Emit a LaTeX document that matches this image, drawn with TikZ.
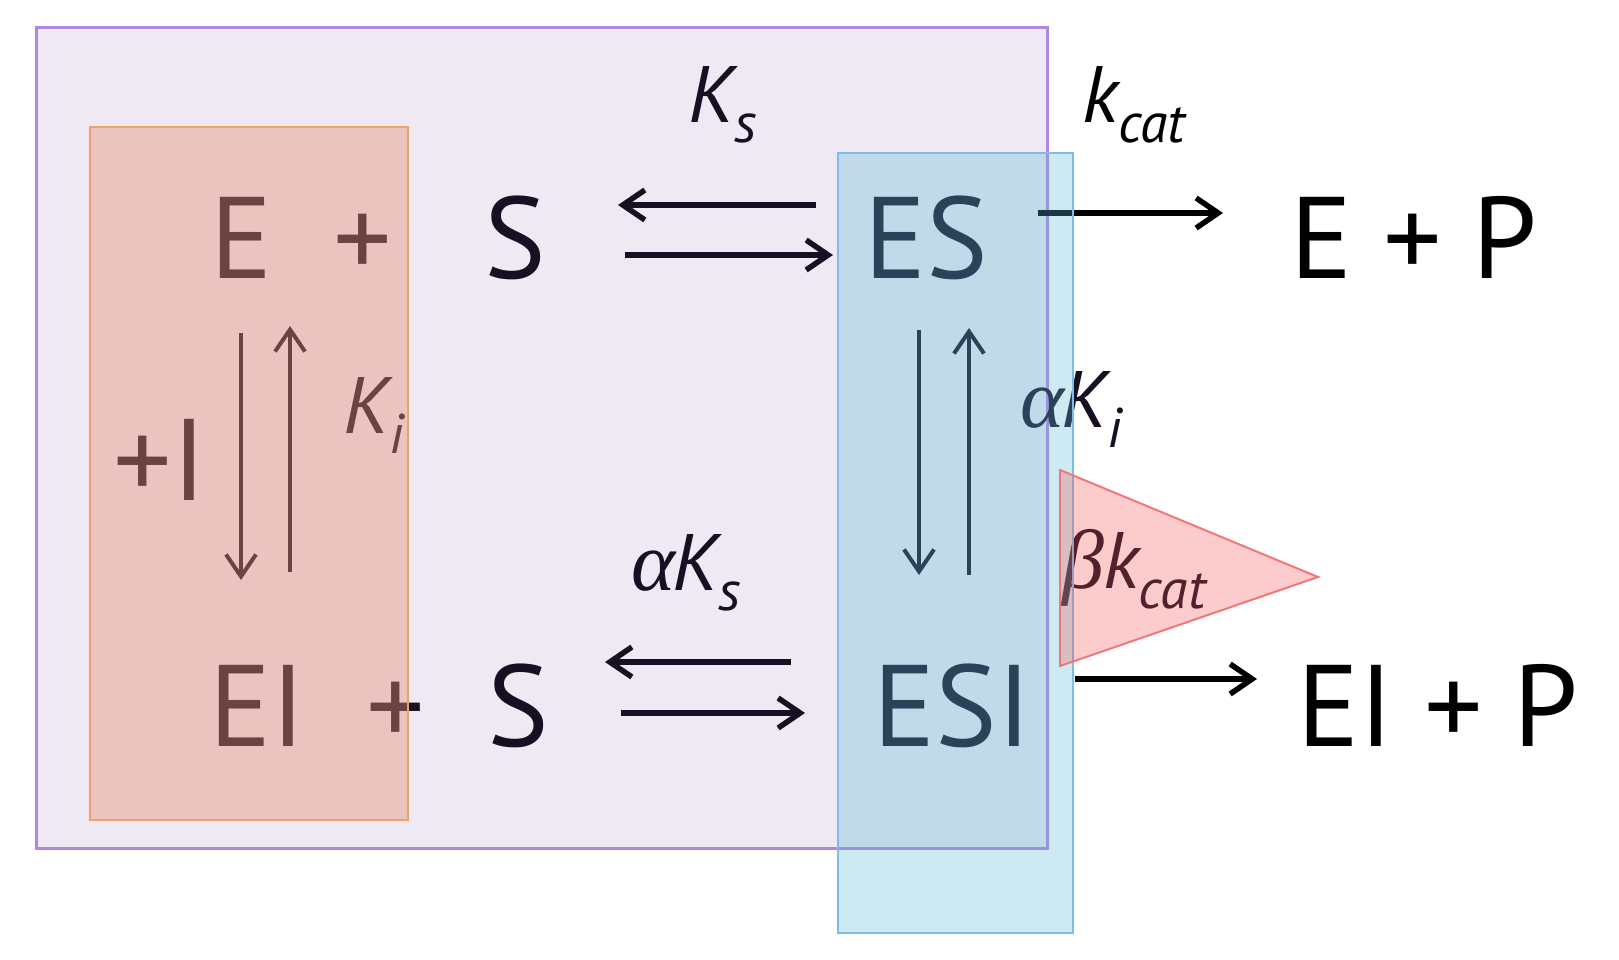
\documentclass[tikz,border=0pt]{standalone}
\usepackage{fontspec}
\setmainfont{PT Sans}
\newfontfamily\grk{Liberation Serif}
\usetikzlibrary{arrows.meta}
\definecolor{lav}{RGB}{238,233,243}
\definecolor{lavline}{RGB}{178,135,225}
\definecolor{orfill}{RGB}{230,145,115}
\definecolor{orline}{RGB}{240,160,105}
\definecolor{blfill}{RGB}{90,185,215}
\definecolor{blline}{RGB}{125,190,232}
\definecolor{trfill}{RGB}{245,75,75}
\definecolor{trline}{RGB}{240,120,120}
\definecolor{ink}{RGB}{25,15,35}
\newcommand{\sbx}[1]{\raisebox{-20pt}{\fontsize{56}{60}\selectfont\itshape #1}}
\newcommand{\gr}[1]{{\grk\itshape\fontsize{84}{90}\selectfont #1}}
\begin{document}
\begin{tikzpicture}[x=1pt,y=-1pt,
  big/.style={font=\fontsize{116}{124}\selectfont, text=ink, anchor=base, inner sep=0pt},
  lbl/.style={font=\fontsize{80}{88}\selectfont\itshape, text=ink, anchor=base west, inner sep=0pt},
  hx/.style={draw=ink, line width=5.5pt, -{Straight Barb[length=22pt,width=30pt]}},
  vx/.style={draw=ink, line width=4pt, -{Straight Barb[length=22pt,width=30pt]}},
]
\useasboundingbox (0,0) rectangle (1619,960);
\fill[white] (0,0) rectangle (1619,960);
% outer purple box
\draw[fill=lav, draw=lavline, line width=3pt] (36,28) rectangle (1047,848);

% species
\node[big] (E)   at (242,278) {E};
\node[big] (p1)  at (363,278) {+};
\node[big] (S1)  at (515,278) {S};
\node[big] (ES)  at (926,278) {ES};
\node[big, text=black] (EP)  at (1414,278) {E + P};
\node[big] (EI)  at (257,746) {EI};
\node[big] (p2)  at (396,746) {+};
\node[big] (S2)  at (518,746) {S};
\node[big] (ESI) at (952,746) {ESI};
\node[big, text=black] (EIP) at (1438,746) {EI + P};
\node[big] (pI)  at (160,500) {+I};

% rate labels
\node[lbl] (Ks)   at (688,123) {K\sbx{s}};
\node[lbl, text=black] (kcat) at (1082,123) {k\sbx{cat}};
\node[lbl] (Ki)   at (343,433) {K\sbx{i}};
\node[lbl] (aKi)  at (1020,427) {\gr{α}\kern-3pt K\sbx{i}};
\node[lbl] (aKs)  at (631,590) {\gr{α}\kern-3pt K\sbx{s}};
\node[lbl] (bkcat) at (1062,588) {\gr{β}\kern-1pt k\sbx{cat}};

% arrow end points
\coordinate (t1a) at (816,205); \coordinate (t1b) at (618,205);
\coordinate (t2a) at (625,255); \coordinate (t2b) at (833,255);
\coordinate (b1a) at (791,662); \coordinate (b1b) at (605,662);
\coordinate (b2a) at (621,713); \coordinate (b2b) at (805,713);
\coordinate (l1a) at (241,333); \coordinate (l1b) at (241,580);
\coordinate (l2a) at (290,572); \coordinate (l2b) at (290,326);
\coordinate (r1a) at (919,330); \coordinate (r1b) at (919,575);
\coordinate (r2a) at (969,575); \coordinate (r2b) at (969,328);
\coordinate (k1a) at (1038,213); \coordinate (k1b) at (1223,213);
\coordinate (k2a) at (1075,679); \coordinate (k2b) at (1257,679);

\draw[hx] (t1a) -- (t1b);
\draw[hx] (t2a) -- (t2b);
\draw[hx] (b1a) -- (b1b);
\draw[hx] (b2a) -- (b2b);
\draw[vx] (l1a) -- (l1b);
\draw[vx] (l2a) -- (l2b);
\draw[vx] (r1a) -- (r1b);
\draw[vx] (r2a) -- (r2b);
\draw[hx, draw=black] (k1a) -- (k1b);
\draw[hx, draw=black] (k2a) -- (k2b);

% overlays
\draw[fill=orfill, fill opacity=0.4, draw=orline, line width=2.5pt] (90,127) rectangle (408,820);
\draw[fill=blfill, fill opacity=0.3, draw=blline, line width=2.5pt] (838,153) rectangle (1073,933);
\draw[fill=trfill, fill opacity=0.28, draw=trline, line width=2pt, line join=miter] (1060,470) -- (1318,577) -- (1060,666) -- cycle;
\end{tikzpicture}
\end{document}
